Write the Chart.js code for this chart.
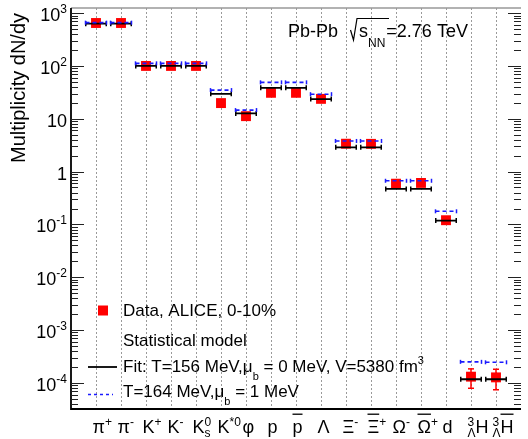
<!DOCTYPE html>
<html>
<head>
<meta charset="utf-8">
<script src="https://cdn.jsdelivr.net/npm/chart.js@4.4.1/dist/chart.umd.min.js"></script>
<style>
  body { margin: 0; background: #fff; }
</style>
</head>
<body>
<canvas id="yieldsChart" width="528" height="439"></canvas>
<script>
/* global Chart */
// labels use a small ROOT-like markup: ^{sup} _{sub} #bar{x}
var particles = ['π^{+}', 'π^{-}', 'K^{+}', 'K^{-}', 'K^{0}_{s}', 'K^{*0}', 'φ', 'p', '#bar{p}', 'Λ',
    'Ξ^{-}', '#bar{Ξ}^{+}', 'Ω^{-}', '#bar{Ω}^{+}', 'd', '^{3}_{Λ}H', '^{3}_{Λ}#bar{H}'];
var aliceYields = [650, 650, 100, 100, 100, 19.8, 11.2, 31, 31, 23.8, 3.37, 3.35, 0.59, 0.61, 0.12, 1.31e-4, 1.27e-4];
var aliceErrLow = [null, null, null, null, null, null, null, null, null, null, null, null, null, null, null, 7.9e-5, 7.4e-5];
var aliceErrHigh = [null, null, null, null, null, null, null, null, null, null, null, null, null, null, null, 1.84e-4, 1.81e-4];
var fitT156 = [630, 630, 100, 100, 100, 29.7, 12.6, 38.6, 38.6, 23.6, 2.88, 2.88, 0.47, 0.47, 0.118, 1.17e-4, 1.17e-4];
var fitT164 = [660, 660, 112, 112, 112, 34.9, 14.6, 48.9, 48.9, 29.2, 3.8, 3.8, 0.67, 0.67, 0.177, 2.5e-4, 2.45e-4];
var yTickValues = [1e3, 1e2, 10, 1, 0.1, 0.01, 1e-3, 1e-4];
var yTickLabels = ['10^{3}', '10^{2}', '10', '1', '10^{-1}', '10^{-2}', '10^{-3}', '10^{-4}'];

var FONT = '"Liberation Sans", Arial, Helvetica, sans-serif';
var BLUE = '#1a1aff';

function segments(vals, half) {
    var pts = [];
    vals.forEach(function(v, i){
        pts.push({x: i + 1 - half, y: v}, {x: i + 1 + half, y: v}, {x: i + 1, y: null});
    });
    return pts;
}

var errPts = [];
aliceErrLow.forEach(function(lo, i){
    if (lo === null) return;
    errPts.push({x: i + 1, y: lo}, {x: i + 1, y: aliceErrHigh[i]}, {x: i + 1, y: null});
});

function parseRich(s) {
    var re = /\^\{([^}]*)\}|_\{(#bar\{[^}]*\}|[^}]*)\}|#bar\{([^}]*)\}|([^^_#]+)/g;
    var parts = [], m;
    while ((m = re.exec(s))) {
        if (m[1] !== undefined) parts.push({t: m[1], k: 'sup'});
        else if (m[2] !== undefined) {
            var b = m[2].indexOf('#bar{') === 0;
            parts.push({t: b ? m[2].slice(5, -1) : m[2], k: 'sub', bar: b});
        }
        else if (m[3] !== undefined) parts.push({t: m[3], k: 'n', bar: true});
        else parts.push({t: m[4], k: 'n'});
    }
    return parts;
}

function layoutRich(ctx, str, size) {
    var parts = parseRich(str), small = Math.round(size * 0.66), items = [], x = 0;
    for (var i = 0; i < parts.length; i++) {
        var p = parts[i];
        var fs = p.k === 'n' ? size : small;
        ctx.font = fs + 'px ' + FONT;
        var w = ctx.measureText(p.t).width;
        items.push({p: p, x: x, w: w, fs: fs});
        var nxt = parts[i + 1];
        if (p.k !== 'n' && nxt && nxt.k !== 'n' && nxt.k !== p.k) {
            ctx.font = small + 'px ' + FONT;
            var w2 = ctx.measureText(nxt.t).width;
            items.push({p: nxt, x: x, w: w2, fs: small});
            x += Math.max(w, w2);
            i++;
        } else {
            x += w;
        }
    }
    return {items: items, width: x};
}

function drawRich(ctx, str, x, y, size, opt) {
    opt = opt || {};
    var lay = layoutRich(ctx, str, size);
    var x0 = opt.align === 'right' ? x - lay.width : x;
    var supDy = opt.supDy != null ? opt.supDy : -size * 0.4;
    var subDy = opt.subDy != null ? opt.subDy : size * 0.28;
    ctx.fillStyle = '#000';
    ctx.textAlign = 'left';
    ctx.textBaseline = 'alphabetic';
    lay.items.forEach(function(it){
        var dy = it.p.k === 'sup' ? supDy : (it.p.k === 'sub' ? subDy : 0);
        ctx.font = it.fs + 'px ' + FONT;
        ctx.fillText(it.p.t, x0 + it.x, y + dy);
        if (it.p.bar) {
            ctx.fillRect(x0 + it.x, y + dy - it.fs * 1.08, it.w, 1.3);
        }
    });
    return x0 + lay.width;
}

var rootFrame = {
    id: 'rootFrame',
    beforeDatasetsDraw: function(chart) {
        var ctx = chart.ctx, a = chart.chartArea, xs = chart.scales.x;
        ctx.save();
        ctx.strokeStyle = '#9a9a9a';
        ctx.lineWidth = 1;
        ctx.setLineDash([2, 2]);
        particles.forEach(function(p, i){
            var px = Math.round(xs.getPixelForValue(i + 1)) + 0.5;
            ctx.beginPath();
            ctx.moveTo(px, a.top);
            ctx.lineTo(px, a.bottom);
            ctx.stroke();
        });
        ctx.restore();
    },
    afterDraw: function(chart) {
        var ctx = chart.ctx, a = chart.chartArea, xs = chart.scales.x, ys = chart.scales.y;
        ctx.save();

        // frame
        ctx.strokeStyle = '#999';
        ctx.lineWidth = 1.5;
        ctx.beginPath(); ctx.moveTo(a.left, a.top); ctx.lineTo(a.right, a.top); ctx.stroke();
        ctx.strokeStyle = '#000';
        ctx.lineWidth = 1.8;
        ctx.beginPath(); ctx.moveTo(a.left, a.top); ctx.lineTo(a.left, a.bottom); ctx.lineTo(a.right, a.bottom); ctx.stroke();

        // log ticks, left and right, pointing inward
        ctx.strokeStyle = '#222';
        ctx.lineWidth = 1;
        for (var e = -5; e <= 3; e++) {
            for (var k = 1; k <= 9; k++) {
                var v = k * Math.pow(10, e);
                if (v < ys.min || v > ys.max) continue;
                var py = Math.round(ys.getPixelForValue(v)) + 0.5;
                var len = k === 1 ? 13 : 7;
                ctx.beginPath();
                ctx.moveTo(a.left, py); ctx.lineTo(a.left + len, py);
                ctx.moveTo(a.right, py); ctx.lineTo(a.right - len, py);
                ctx.stroke();
            }
        }
        yTickValues.forEach(function(v, i){
            drawRich(ctx, yTickLabels[i], 67, ys.getPixelForValue(v) + 8, 18, {align: 'right', supDy: -8});
        });

        // particle labels
        particles.forEach(function(p, i){
            drawRich(ctx, p, xs.getPixelForValue(i + 1) - 3.5, 433, 18, {supDy: -7, subDy: 4});
        });

        // axis title
        ctx.save();
        ctx.translate(25, 88);
        ctx.rotate(-Math.PI / 2);
        ctx.font = '20px ' + FONT;
        ctx.textAlign = 'center';
        ctx.fillStyle = '#000';
        ctx.fillText('Multiplicity dN/dy', 0, 0);
        ctx.restore();

        // system label
        drawRich(ctx, 'Pb-Pb', 288, 37, 18);
        ctx.strokeStyle = '#000';
        ctx.lineWidth = 1.2;
        ctx.beginPath();
        ctx.moveTo(350.5, 30);
        ctx.lineTo(353.5, 40);
        ctx.lineTo(357, 18.5);
        ctx.lineTo(389, 18.5);
        ctx.stroke();
        var xe = drawRich(ctx, 's_{NN}', 359, 37, 18, {subDy: 10});
        drawRich(ctx, '=2.76 TeV', xe + 1, 37, 18);

        // legend
        ctx.fillStyle = '#f00';
        ctx.fillRect(98, 305.5, 10, 10);
        drawRich(ctx, 'Data, ALICE, 0-10%', 123, 316, 17);
        drawRich(ctx, 'Statistical model', 123, 346, 17);
        ctx.strokeStyle = '#000';
        ctx.lineWidth = 1.8;
        ctx.beginPath(); ctx.moveTo(88, 367); ctx.lineTo(117, 367); ctx.stroke();
        drawRich(ctx, 'Fit: T=156 MeV,μ_{b} = 0 MeV, V=5380 fm^{3}', 123, 372, 17, {subDy: 8, supDy: -8});
        ctx.strokeStyle = BLUE;
        ctx.lineWidth = 1.5;
        ctx.setLineDash([3, 3]);
        ctx.beginPath(); ctx.moveTo(88, 394.5); ctx.lineTo(113, 394.5); ctx.stroke();
        ctx.setLineDash([]);
        drawRich(ctx, 'T=164 MeV,μ_{b} = 1 MeV', 123, 397, 17, {subDy: 8});

        ctx.restore();
    }
};

var ctx = document.getElementById('yieldsChart').getContext('2d');
var yieldsChart = new Chart(ctx, {
    type: 'scatter',
    data: {
        datasets: [{
            label: 'T=164 MeV, mu_b = 1 MeV',
            data: segments(fitT164, 0.42),
            showLine: true,
            borderColor: BLUE,
            borderWidth: 1.6,
            borderDash: [4, 3],
            pointStyle: 'line',
            pointRotation: 90,
            pointRadius: 2,
            pointBorderWidth: 1.5,
            pointBorderColor: BLUE,
            order: 1
        }, {
            label: 'Fit: T=156 MeV, mu_b = 0 MeV',
            data: segments(fitT156, 0.41),
            showLine: true,
            borderColor: '#000',
            borderWidth: 1.8,
            pointStyle: 'line',
            pointRotation: 90,
            pointRadius: 2.5,
            pointBorderWidth: 1.5,
            pointBorderColor: '#000',
            order: 2
        }, {
            label: 'Data errors',
            data: errPts,
            showLine: true,
            borderColor: '#f00',
            borderWidth: 1.5,
            pointStyle: 'line',
            pointRadius: 3,
            pointBorderWidth: 1.5,
            pointBorderColor: '#f00',
            order: 3
        }, {
            label: 'Data, ALICE, 0-10%',
            data: aliceYields.map(function(v, i){ return {x: i + 1, y: v}; }),
            pointStyle: 'rect',
            pointRadius: 7,
            pointBackgroundColor: '#f00',
            pointBorderWidth: 0,
            order: 4
        }]
    },
    options: {
        responsive: false,
        animation: false,
        devicePixelRatio: 1,
        events: [],
        layout: { padding: { left: 71, right: 0, top: 8, bottom: 30 } },
        scales: {
            x: { type: 'linear', min: 0, max: 18, display: false },
            y: { type: 'logarithmic', min: 3.2e-5, max: 1250, display: false }
        },
        plugins: {
            legend: { display: false },
            tooltip: { enabled: false }
        }
    },
    plugins: [rootFrame]
});
</script>
</body>
</html>
